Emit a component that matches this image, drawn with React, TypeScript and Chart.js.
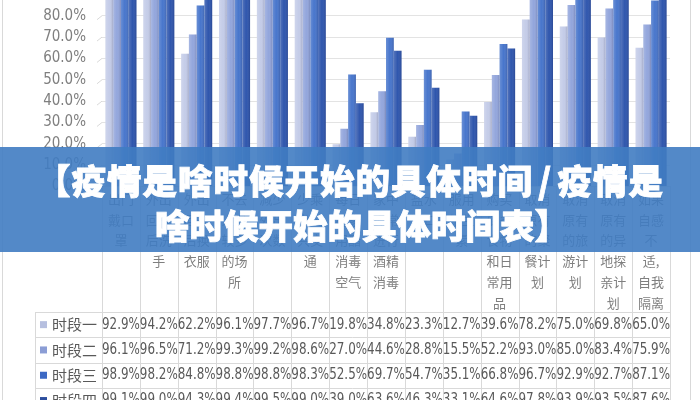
import React, { useEffect, useRef } from "react";
import { Chart, registerables } from "chart.js";

Chart.register(...registerables);

// ---- data ----
const categories: string[][] = [
  ["出门", "戴口", "罩"],
  ["外出", "回来", "后洗", "手"],
  ["外出", "回来", "后换", "衣服"],
  ["不去", "人员", "较多", "的场", "所"],
  ["减少", "外出", "次数"],
  ["少乘", "坐公", "共交", "通"],
  ["每日", "在家", "用醋", "消毒", "空气"],
  ["家中", "经常", "进行", "酒精", "消毒"],
  ["盐水", "漱口"],
  ["服用", "维生", "素"],
  ["购买", "储备", "食物", "和日", "常用", "品"],
  ["取消", "原有", "的聚", "餐计", "划"],
  ["取消", "原有", "的旅", "游计", "划"],
  ["取消", "原有", "的异", "地探", "亲计", "划"],
  ["如果", "自感", "不", "适,", "自我", "隔离"],
];
const seriesNames = ["时段一", "时段二", "时段三", "时段四"];
const period1 = [92.9, 94.2, 62.2, 96.1, 97.7, 96.7, 19.8, 34.8, 23.3, 12.7, 39.6, 78.2, 75.0, 69.8, 65.0];
const period2 = [96.1, 96.5, 71.2, 99.3, 99.2, 98.6, 27.0, 44.6, 28.8, 15.5, 52.2, 93.0, 85.0, 83.4, 75.9];
const period3 = [98.9, 98.2, 84.8, 98.8, 98.8, 98.3, 52.5, 69.7, 54.7, 35.1, 66.8, 96.7, 92.9, 92.7, 87.1];
const period4 = [99.1, 99.0, 94.3, 99.4, 99.5, 99.0, 39.0, 63.6, 46.3, 33.1, 64.6, 97.8, 93.9, 93.5, 87.6];
const yMin = 0;
const yMax = 100;
const yStep = 10;
const titleLine1a = "【疫情是啥时候开始的具体时间";
const titleSlash = "/";
const titleLine1b = "疫情是";
const titleLine2 = "啥时候开始的具体时间表】";

const seriesData = [period1, period2, period3, period4];
const barColors = ["#c4cce8", "#93a6dc", "#4876cc", "#2f56ad"];
const keyColors = ["#b6bfdf", "#8b9dd5", "#3d69c4", "#2d4e9e"];

const OFFSET = 40; // canvas shifted upward so the top of the plot is cropped
const CANVAS_H = 460;
const BASELINE = 186.5; // page y of the 0% line
const NUM_FONT = '"Liberation Sans Narrow", "Arial Narrow", "DejaVu Sans Condensed", sans-serif';
const CJK_FONT = '"Noto Sans CJK SC", "Noto Sans", sans-serif';

export default function App() {
  const ref = useRef<HTMLCanvasElement>(null);

  useEffect(() => {
    if (!ref.current) return;

    const shadePlugin = {
      id: "barShade",
      afterDatasetsDraw(chart: any) {
        const { ctx, chartArea } = chart;
        ctx.save();
        ctx.beginPath();
        ctx.rect(chartArea.left, 0, chartArea.right - chartArea.left, chartArea.bottom);
        ctx.clip();
        chart.data.datasets.forEach((_d: any, di: number) => {
          const meta = chart.getDatasetMeta(di);
          meta.data.forEach((el: any) => {
            const w = el.width;
            const l = el.x - w / 2;
            const g = ctx.createLinearGradient(l, 0, l + w, 0);
            g.addColorStop(0, "rgba(255,255,255,0.18)");
            g.addColorStop(0.5, "rgba(255,255,255,0)");
            g.addColorStop(1, "rgba(0,0,40,0.18)");
            ctx.fillStyle = g;
            ctx.fillRect(l, el.y, w, el.base - el.y);
          });
        });
        ctx.restore();
      },
    };

    const tablePlugin = {
      id: "dataTable",
      afterDraw(chart: any) {
        const { ctx, chartArea, scales } = chart;
        const xs = scales.x;
        const ys = scales.y;
        const n = categories.length;
        const colW = (chartArea.right - chartArea.left) / n;
        const base = chartArea.bottom;
        const tableTop = 312 + OFFSET;
        const rowH = 25.3;
        ctx.save();
        ctx.strokeStyle = "#d9d9d9";
        ctx.lineWidth = 1;
        // 3D wall ticks near the y axis
        ys.ticks.forEach((t: any) => {
          const yy = ys.getPixelForValue(t.value);
          ctx.beginPath();
          ctx.moveTo(chartArea.left - 5, yy + 4);
          ctx.lineTo(chartArea.left, yy);
          ctx.stroke();
        });
        // vertical table lines
        for (let i = 0; i <= n; i++) {
          const xx = Math.round(chartArea.left + i * colW) + 0.5;
          ctx.beginPath();
          ctx.moveTo(xx, base);
          ctx.lineTo(xx, CANVAS_H);
          ctx.stroke();
        }
        // left border of label column
        ctx.beginPath();
        ctx.moveTo(35.5, tableTop);
        ctx.lineTo(35.5, CANVAS_H);
        ctx.stroke();
        // horizontal lines
        for (let r = 0; r <= 4; r++) {
          const yy = Math.round(tableTop + r * rowH) + 0.5;
          ctx.beginPath();
          ctx.moveTo(35, yy);
          ctx.lineTo(Math.round(chartArea.right) + 0.5, yy);
          ctx.stroke();
        }
        // chart outer borders
        ctx.beginPath();
        ctx.moveTo(2.5, 0);
        ctx.lineTo(2.5, CANVAS_H);
        ctx.moveTo(690.5, 0);
        ctx.lineTo(690.5, CANVAS_H);
        ctx.stroke();

        // rows
        ctx.textBaseline = "middle";
        seriesData.forEach((vals, r) => {
          const cy = tableTop + r * rowH + rowH / 2;
          ctx.fillStyle = keyColors[r];
          ctx.fillRect(40, cy - 3.5, 7, 7);
          ctx.fillStyle = "#595959";
          ctx.font = `15px ${CJK_FONT}`;
          ctx.textAlign = "left";
          ctx.fillText(seriesNames[r], 52, cy);
          ctx.font = `15px ${NUM_FONT}`;
          ctx.textAlign = "center";
          vals.forEach((v, i) => {
            ctx.fillText(v.toFixed(1) + "%", xs.getPixelForValue(i), cy, colW);
          });
        });
        ctx.restore();
      },
    };

    const chart = new Chart(ref.current, {
      type: "bar",
      data: {
        labels: categories,
        datasets: seriesData.map((d, i) => ({
          label: seriesNames[i],
          data: d,
          backgroundColor: barColors[i],
          borderWidth: 0,
          categoryPercentage: 0.82,
          barPercentage: 1.0,
        })),
      },
      options: {
        responsive: false,
        animation: false,
        layout: { padding: { top: 13, right: 30, left: 0, bottom: 0 } },
        plugins: {
          legend: { display: false },
          tooltip: { enabled: false },
          title: { display: false },
        },
        scales: {
          x: {
            grid: { display: false, drawTicks: false },
            border: { display: true, color: "#d9d9d9" },
            ticks: {
              color: "#7f7f7f",
              font: { family: CJK_FONT, size: 13, lineHeight: 1.6 },
              maxRotation: 0,
              minRotation: 0,
              autoSkip: false,
              padding: 2,
            },
            afterFit: (s: any) => {
              s.height = CANVAS_H - (BASELINE + OFFSET);
              s.paddingLeft = 0;
              s.paddingRight = 0;
            },
          },
          y: {
            min: yMin,
            max: yMax,
            grid: { color: "#e3e3e3", drawTicks: false },
            border: { display: false },
            ticks: {
              stepSize: yStep,
              autoSkip: false,
              color: "#7f7f7f",
              font: { family: NUM_FONT, size: 15 },
              padding: 16,
              callback: (v: any) => Number(v).toFixed(1) + "%",
            },
            afterFit: (s: any) => {
              s.width = 102;
              s.paddingTop = 0;
              s.paddingBottom = 0;
            },
          },
        },
      },
      plugins: [shadePlugin, tablePlugin],
    });
    return () => chart.destroy();
  }, []);

  return (
    <div
      style={{
        position: "fixed",
        left: 0,
        top: 0,
        width: 700,
        height: 400,
        overflow: "hidden",
        background: "#ffffff",
      }}
    >
      <canvas
        ref={ref}
        width={700}
        height={CANVAS_H}
        style={{ position: "absolute", left: 0, top: -OFFSET, display: "block" }}
      />
      <div
        style={{
          position: "absolute",
          left: 0,
          top: 147,
          width: 700,
          height: 105,
          background: "rgba(64,124,194,0.9)",
          color: "#ffffff",
          fontFamily: CJK_FONT,
          fontWeight: 900,
          fontSize: 34.5,
          textAlign: "center",
          paddingTop: 10,
          boxSizing: "border-box",
          lineHeight: "45px",
          whiteSpace: "nowrap",
          WebkitTextStroke: "0.8px #ffffff",
        }}
      >
        <div style={{ paddingLeft: 0, letterSpacing: 1.0 }}>
          {titleLine1a}
          <span style={{ margin: "0 5px" }}>{titleSlash}</span>
          {titleLine1b}
        </div>
        <div style={{ paddingLeft: 24 }}>{titleLine2}</div>
      </div>
    </div>
  );
}
